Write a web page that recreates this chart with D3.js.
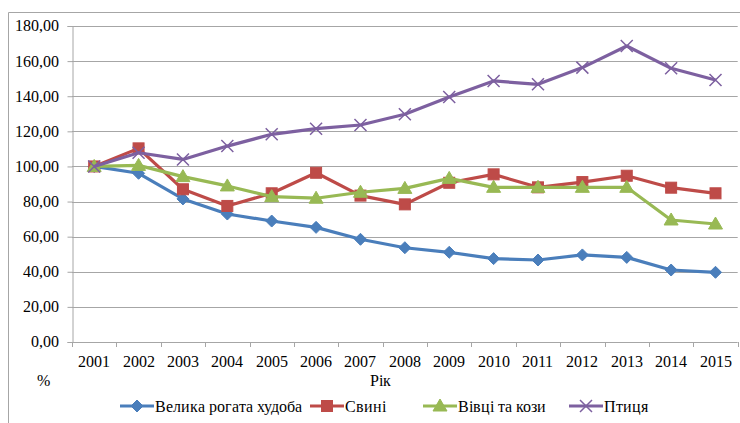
<!DOCTYPE html>
<html><head><meta charset="utf-8">
<script src="https://cdn.jsdelivr.net/npm/d3@7/dist/d3.min.js"></script>
<style>
@font-face{font-family:'RefSerif';src:local('Liberation Serif'),local('LiberationSerif'),local('LiberationSerif-Regular');}
html,body{margin:0;padding:0;background:#fff;}
svg{display:block;}
svg text{font-family:'RefSerif','Liberation Serif',serif;}
</style></head>
<body>
<svg id="chart" width="740" height="423"></svg>
<script>
const years = ["2001","2002","2003","2004","2005","2006","2007","2008","2009","2010","2011","2012","2013","2014","2015"];
const seriesNames = ["Велика рогата худоба","Свині","Вівці та кози","Птиця"];
const cattle = [100,96.1,81.5,72.9,68.9,65.3,58.5,53.7,51.1,47.5,46.7,49.6,48.2,41.0,39.7];
const pigs   = [100,110.3,87.0,77.5,84.7,96.4,83.4,78.4,90.7,95.5,88.1,91.1,94.7,87.9,84.7];
const sheep  = [100,100.6,94.2,88.9,82.8,81.9,85.3,87.5,93.2,88.1,88.1,88.1,88.1,69.5,67.2];
const poultry= [100,107.8,104.0,111.6,118.3,121.5,123.6,129.7,139.6,148.7,146.8,156.3,168.6,155.9,149.2];
const yTicks = [0,20,40,60,80,100,120,140,160,180];

(function(){
const TS = "font-family:'RefSerif','Liberation Serif',serif;font-size:15.5px;fill:#000";
const colors = ["#4A7EBB","#BE4B48","#98B954","#7D60A0"];
const markers = ["diamond","square","triangle","x"];
const data = [cattle,pigs,sheep,poultry];

const svg = d3.select("#chart");
svg.append("path").attr("d","M8.5,423 L8.5,12.5 L740,12.5").attr("fill","none").attr("stroke","#A6A6A6").attr("stroke-width",1);

const pl=72, pr=737.7, pt=26, pb=342;
const x = d3.scaleBand().domain(years).range([pl,pr]);
const y = d3.scaleLinear().domain([0,180]).range([pb,pt]);

svg.append("g").selectAll("line").data(yTicks.filter(d=>d>0)).join("line")
  .attr("x1",pl).attr("x2",pr).attr("y1",d=>Math.round(y(d))+0.5).attr("y2",d=>Math.round(y(d))+0.5)
  .attr("stroke","#A6A6A6").attr("stroke-width",1);

const fmt = d => d3.format(".2f")(d).replace(".",",");
const yAxis = svg.append("g").attr("transform",`translate(${pl+0.5},0)`)
  .call(d3.axisLeft(y).tickValues(yTicks).tickFormat(fmt).tickSize(5).tickPadding(9));
yAxis.attr("font-family",null).attr("font-size",null);
yAxis.select(".domain").attr("stroke","#A6A6A6");
yAxis.selectAll(".tick line").attr("stroke","#A6A6A6");
yAxis.selectAll(".tick text").attr("style",TS);

const xg = svg.append("g");
xg.append("line").attr("x1",pl).attr("x2",pr).attr("y1",pb+0.5).attr("y2",pb+0.5).attr("stroke","#A6A6A6");
const bounds = years.map(d=>x(d)).concat([x(years[years.length-1])+x.bandwidth()]);
xg.selectAll("line.t").data(bounds).join("line").attr("class","t")
  .attr("x1",d=>Math.round(d)+0.5).attr("x2",d=>Math.round(d)+0.5).attr("y1",pb).attr("y2",pb+5).attr("stroke","#A6A6A6");
xg.selectAll("text").data(years).join("text")
  .attr("x",d=>x(d)+x.bandwidth()/2).attr("y",pb+25).attr("text-anchor","middle")
  .attr("style",TS).text(d=>d);

svg.append("text").attr("x",43).attr("y",386).attr("text-anchor","middle").attr("style",TS).text("%");
svg.append("text").attr("x",380).attr("y",386).attr("text-anchor","middle").attr("style",TS).text("Рік");

function drawMarker(g, type, color, cx, cy){
  if(type==="diamond"){
    g.append("path").attr("d",`M${cx},${cy-6} L${cx+6},${cy} L${cx},${cy+6} L${cx-6},${cy} Z`).attr("fill",color).attr("stroke",color);
  } else if(type==="square"){
    g.append("rect").attr("x",cx-5.5).attr("y",cy-5.5).attr("width",11).attr("height",11).attr("fill",color).attr("stroke",color);
  } else if(type==="triangle"){
    g.append("path").attr("d",`M${cx},${cy-7} L${cx+7},${cy+5} L${cx-7},${cy+5} Z`).attr("fill",color).attr("stroke",color);
  } else {
    g.append("path").attr("d",`M${cx-6},${cy-6} L${cx+6},${cy+6} M${cx-6},${cy+6} L${cx+6},${cy-6}`).attr("stroke",color).attr("stroke-width",1.5);
  }
}

const line = d3.line().x((d,i)=>x(years[i])+x.bandwidth()/2).y(d=>y(d));
data.forEach((vals,si)=>{
  const g = svg.append("g");
  g.append("path").datum(vals).attr("d",line).attr("fill","none").attr("stroke",colors[si]).attr("stroke-width",3.2).attr("stroke-linejoin","round");
  vals.forEach((v,i)=>drawMarker(g, markers[si], colors[si], x(years[i])+x.bandwidth()/2, y(v)));
});

const legX = [120,310,423,569];
const legY = 406;
seriesNames.forEach((n,i)=>{
  const g = svg.append("g");
  g.append("line").attr("x1",legX[i]).attr("x2",legX[i]+34).attr("y1",legY).attr("y2",legY).attr("stroke",colors[i]).attr("stroke-width",3.2);
  drawMarker(g, markers[i], colors[i], legX[i]+17, legY);
  g.append("text").attr("x",legX[i]+35).attr("y",legY+5.5).attr("style",TS).text(n);
});
})();
</script>
</body></html>
